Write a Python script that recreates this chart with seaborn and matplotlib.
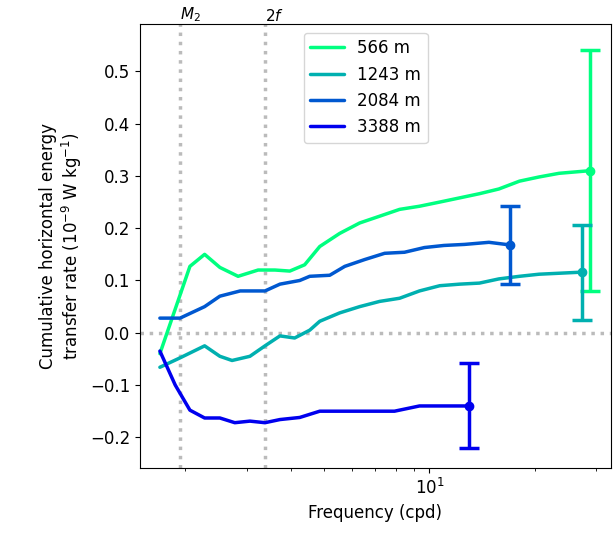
import numpy as np
import pandas as pd
import seaborn as sns
import matplotlib.pyplot as plt

depths = ['566 m', '1243 m', '2084 m', '3388 m']
colors = ['#00ff80', '#00b0b0', '#0058d0', '#0000ee']

freq_566 = [1.69, 2.06, 2.27, 2.51, 2.83, 3.23, 3.61, 3.98, 4.39, 4.85, 5.53, 6.31, 7.2, 8.21,
            9.36, 10.7, 12.2, 13.9, 15.8, 18.1, 20.6, 23.5, 28.8]
rate_566 = [-0.04, 0.127, 0.15, 0.125, 0.108, 0.12, 0.12, 0.118, 0.13, 0.165, 0.19, 0.21, 0.223,
            0.236, 0.242, 0.25, 0.258, 0.266, 0.275, 0.29, 0.298, 0.305, 0.31]
freq_1243 = [1.69, 1.93, 2.27, 2.51, 2.72, 3.06, 3.38, 3.73, 4.11, 4.54, 4.85, 5.53, 6.31, 7.2,
             8.21, 9.36, 10.7, 12.2, 13.9, 15.8, 18.1, 20.6, 27.4]
rate_1243 = [-0.066, -0.048, -0.025, -0.045, -0.053, -0.045, -0.025, -0.006, -0.01, 0.005, 0.022,
             0.038, 0.05, 0.06, 0.066, 0.08, 0.09, 0.093, 0.095, 0.103, 0.108, 0.112, 0.116]
freq_2084 = [1.69, 1.93, 2.27, 2.51, 2.87, 3.38, 3.73, 4.25, 4.54, 5.18, 5.72, 6.52, 7.44, 8.48,
             9.67, 11.0, 12.6, 14.8, 17.0]
rate_2084 = [0.028, 0.028, 0.05, 0.07, 0.08, 0.08, 0.093, 0.1, 0.108, 0.11, 0.127, 0.14, 0.152,
             0.154, 0.163, 0.167, 0.169, 0.173, 0.168]
freq_3388 = [1.69, 1.87, 2.06, 2.27, 2.51, 2.77, 3.06, 3.38, 3.73, 4.25, 4.85, 5.72, 6.74, 7.94,
             9.36, 11.4, 13.0]
rate_3388 = [-0.035, -0.1, -0.148, -0.163, -0.163, -0.172, -0.169, -0.172, -0.166, -0.162, -0.15,
             -0.15, -0.15, -0.15, -0.14, -0.14, -0.14]

err_lo = [0.08, 0.025, 0.093, -0.22]
err_hi = [0.54, 0.207, 0.243, -0.058]

freqs = [freq_566, freq_1243, freq_2084, freq_3388]
rates = [rate_566, rate_1243, rate_2084, rate_3388]

df = pd.concat([pd.DataFrame({'freq': f, 'rate': r, 'depth': d})
                for f, r, d in zip(freqs, rates, depths)])

sns.set_style('ticks', {'axes.edgecolor': 'black', 'xtick.color': 'black', 'ytick.color': 'black',
                        'text.color': 'black', 'axes.labelcolor': 'black'})
plt.rcParams['font.family'] = ['DejaVu Sans']
fig = plt.figure(figsize=(6.13, 5.4), dpi=100)
ax = fig.add_axes([0.228, 0.133, 0.768, 0.822])

sns.lineplot(data=df, x='freq', y='rate', hue='depth', palette=colors, linewidth=2.5,
             ax=ax, sort=False)

for f, r, lo, hi, c in zip(freqs, rates, err_lo, err_hi, colors):
    ax.errorbar(f[-1], r[-1], yerr=[[r[-1] - lo], [hi - r[-1]]], fmt='o', color=c,
                ms=6, elinewidth=2.5, capsize=7, capthick=2.5)

m2, f2 = 1.93, 3.38
for v, lab in [(m2, '$M_2$'), (f2, '$2f$')]:
    ax.axvline(v, color='#bbbbbb', ls=':', lw=2.5, zorder=0)
    ax.text(v, 1.0, lab, ha='left', va='bottom', fontsize=11, transform=ax.get_xaxis_transform())
ax.axhline(0, color='#bbbbbb', ls=':', lw=2.5, zorder=0)

ax.set_xscale('log')
ax.set_xlim(1.48, 33)
ax.set_ylim(-0.259, 0.59)
ax.set_yticks([-0.2, -0.1, 0.0, 0.1, 0.2, 0.3, 0.4, 0.5])
ax.tick_params(labelsize=12)
ax.set_xlabel('Frequency (cpd)', fontsize=12)
ax.set_ylabel('Cumulative horizontal energy\ntransfer rate ($10^{-9}$ W kg$^{-1}$)', fontsize=12)
ax.legend(loc='upper center', bbox_to_anchor=(0.48, 1.0), fontsize=12)

fig.savefig('out.png', dpi=100)
